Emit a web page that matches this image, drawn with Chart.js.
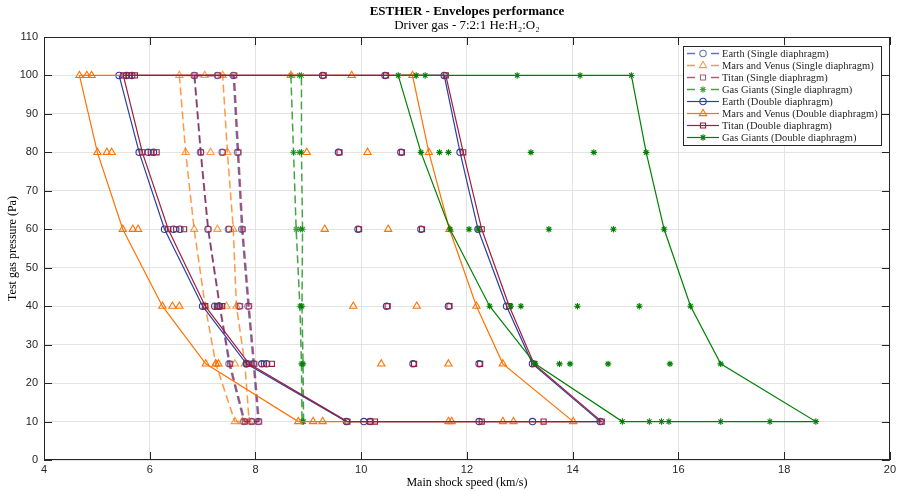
<!DOCTYPE html>
<html><head><meta charset="utf-8">
<script src="https://cdn.jsdelivr.net/npm/chart.js@4/dist/chart.umd.min.js"></script>
<style>html,body{margin:0;padding:0;background:#fff;}canvas{display:block;}</style>
</head><body>
<canvas id="c" width="899" height="491"></canvas>
<script>
// Test gas pressures (Pa), rows of every series follow this order
const pressures = [100, 80, 60, 40, 25, 10];
const xTickValues = [4, 6, 8, 10, 12, 14, 16, 18, 20];
const yTickValues = [0, 10, 20, 30, 40, 50, 60, 70, 80, 90, 100, 110];

// Main shock speeds (km/s) per pressure row
const earthSingle = [
  [6.84, 7.28, 7.58], [6.96, 7.37, 7.66], [7.10, 7.49, 7.74],
  [7.32, 7.69, 7.86], [7.50, 7.83, 7.96], [7.78, 7.92, 8.05]];
const marsSingle = [
  [6.56, 7.04, 7.38], [6.68, 7.15, 7.47], [6.84, 7.28, 7.58],
  [7.05, 7.45, 7.64], [7.25, 7.61, 7.80], [7.61, 7.75, 7.88]];
const titanSingle = [
  [6.85, 7.29, 7.60], [6.97, 7.38, 7.68], [7.11, 7.50, 7.76],
  [7.33, 7.71, 7.88], [7.52, 7.85, 7.98], [7.80, 7.94, 8.07]];
const gasSingle = [
  [8.67, 8.83, 8.87], [8.72, 8.83, 8.87], [8.77, 8.85, 8.89],
  [8.84, 8.87, 8.88], [8.87, 8.89, 8.90], [8.88, 8.90, 8.91]];
const earthDouble = [
  [5.42, 5.56, 5.66, 9.27, 10.45, 11.57], [5.80, 5.97, 6.07, 9.57, 10.75, 11.87],
  [6.28, 6.45, 6.57, 9.94, 11.13, 12.21], [7.00, 7.23, 7.30, 10.48, 11.65, 12.75],
  [7.83, 8.12, 8.21, 10.98, 12.23, 13.24], [9.72, 10.05, 10.17, 12.23, 13.24, 14.52]];
const marsDouble = [
  [4.67, 4.81, 4.90, 8.67, 9.82, 10.97], [5.01, 5.19, 5.28, 8.97, 10.12, 11.28],
  [5.49, 5.68, 5.78, 9.31, 10.51, 11.67], [6.24, 6.43, 6.56, 9.85, 11.05, 12.18],
  [7.06, 7.25, 7.30, 10.38, 11.65, 12.68], [8.81, 9.09, 9.27, 11.65, 11.71, 12.68, 12.88, 14.01]];
const titanDouble = [
  [5.50, 5.61, 5.72, 9.29, 10.47, 11.60], [5.86, 6.02, 6.13, 9.59, 10.77, 11.93],
  [6.35, 6.50, 6.65, 9.96, 11.15, 12.28], [7.05, 7.27, 7.37, 10.50, 11.67, 12.80],
  [7.88, 8.16, 8.31, 11.00, 12.25, 13.27], [9.74, 10.17, 10.26, 12.28, 13.45, 14.55]];
const gasDouble = [
  [10.70, 11.04, 11.21, 12.95, 14.14, 15.11], [11.13, 11.48, 11.65, 13.21, 14.40, 15.39],
  [11.68, 12.04, 12.21, 13.55, 14.77, 15.73], [12.43, 12.83, 13.02, 14.09, 15.26, 16.23],
  [13.29, 13.75, 13.95, 14.67, 15.84, 16.80], [14.94, 15.45, 15.68, 15.82, 16.80, 17.73, 18.60]];

const seriesLabels = [
  'Earth (Single diaphragm)', 'Mars and Venus (Single diaphragm)', 'Titan (Single diaphragm)',
  'Gas Giants (Single diaphragm)', 'Earth (Double diaphragm)', 'Mars and Venus (Double diaphragm)',
  'Titan (Double diaphragm)', 'Gas Giants (Double diaphragm)'];
const seriesRows = [earthSingle, marsSingle, titanSingle, gasSingle, earthDouble, marsDouble, titanDouble, gasDouble];

// styles
const seriesColors = [
  'rgba(43,63,158,0.72)', 'rgba(255,114,0,0.72)', 'rgba(160,28,60,0.72)', 'rgba(0,128,0,0.72)',
  '#2b3f9e', '#ff7200', '#a01c3c', '#008000'];
const seriesMarkers = ['circle', 'triangle', 'rect', 'star', 'circle', 'triangle', 'rect', 'star'];
const seriesDashed = [true, true, true, true, false, false, false, false];
const markerRadius = {circle: 3.2, triangle: 4.2, rect: 3.6, star: 3.2};

const SERIF = '"Liberation Serif", "DejaVu Serif", serif';
const SANS = '"Liberation Sans Narrow", "Liberation Sans", Arial, sans-serif';
const AXIS = '#262626';

function envelopePath(rows) {
  const mins = rows.map(r => Math.min(...r));
  const maxs = rows.map(r => Math.max(...r));
  const path = [];
  for (let i = 0; i < pressures.length; i++) path.push({x: mins[i], y: pressures[i]});
  for (let i = pressures.length - 1; i >= 0; i--) path.push({x: maxs[i], y: pressures[i]});
  path.push({x: mins[0], y: pressures[0]});
  return path;
}
function allPoints(rows) {
  return rows.flatMap((r, i) => r.map(v => ({x: v, y: pressures[i]})));
}

const datasets = [];
seriesRows.forEach((rows, k) => {
  const n = seriesRows.length;
  datasets.push({
    label: seriesLabels[k], data: envelopePath(rows), showLine: true,
    borderColor: seriesColors[k], backgroundColor: seriesColors[k],
    borderWidth: seriesDashed[k] ? 1.5 : 1.2, borderDash: seriesDashed[k] ? [8, 4] : [],
    pointRadius: 0, order: 2 * (n - k), tension: 0
  });
  datasets.push({
    label: seriesLabels[k] + ' markers', data: allPoints(rows), showLine: false,
    borderColor: seriesColors[k], backgroundColor: seriesMarkers[k] === 'star' ? seriesColors[k] : 'rgba(0,0,0,0)',
    borderWidth: 1.1, pointStyle: seriesMarkers[k], pointRadius: markerRadius[seriesMarkers[k]],
    order: 2 * (n - k) - 1
  });
});

function drawMarker(ctx, style, x, y, r, color) {
  ctx.save();
  ctx.strokeStyle = color; ctx.fillStyle = color; ctx.lineWidth = 1.1; ctx.setLineDash([]);
  ctx.beginPath();
  if (style === 'circle') { ctx.arc(x, y, r, 0, Math.PI * 2); ctx.stroke(); }
  else if (style === 'triangle') {
    ctx.moveTo(x, y - r); ctx.lineTo(x + r * 0.866, y + r * 0.5); ctx.lineTo(x - r * 0.866, y + r * 0.5); ctx.closePath(); ctx.stroke();
  } else if (style === 'rect') { const s = r * Math.SQRT1_2; ctx.rect(x - s, y - s, 2 * s, 2 * s); ctx.stroke(); }
  else if (style === 'star') {
    for (let a = 0; a < 4; a++) { const t = a * Math.PI / 4; ctx.moveTo(x - r * Math.cos(t), y - r * Math.sin(t)); ctx.lineTo(x + r * Math.cos(t), y + r * Math.sin(t)); }
    ctx.stroke();
  }
  ctx.restore();
}

const deco = {
  id: 'deco',
  afterDraw(chart) {
    const {ctx, chartArea: a, scales: {x, y}} = chart;
    ctx.save();
    // inner ticks
    ctx.strokeStyle = AXIS; ctx.lineWidth = 1; ctx.beginPath();
    xTickValues.forEach(v => {
      const px = Math.round(x.getPixelForValue(v)) + 0.5;
      ctx.moveTo(px, a.bottom); ctx.lineTo(px, a.bottom - 8);
      ctx.moveTo(px, a.top); ctx.lineTo(px, a.top + 8);
    });
    yTickValues.forEach(v => {
      const py = Math.round(y.getPixelForValue(v)) + 0.5;
      ctx.moveTo(a.left, py); ctx.lineTo(a.left + 8, py);
      ctx.moveTo(a.right, py); ctx.lineTo(a.right - 8, py);
    });
    ctx.stroke();
    ctx.strokeRect(Math.round(a.left) + 0.5, Math.round(a.top) + 0.5, Math.round(a.right - a.left) - 1, Math.round(a.bottom - a.top) - 1);
    // titles
    const cx = (a.left + a.right) / 2;
    ctx.fillStyle = '#000'; ctx.textAlign = 'center'; ctx.textBaseline = 'middle';
    ctx.font = 'bold 13px ' + SERIF; ctx.fillText('ESTHER - Envelopes performance', cx, 12);
    ctx.font = '13px ' + SERIF; ctx.fillText('Driver gas - 7:2:1 He:H\u2082:O\u2082', cx, 26);
    // legend
    const lx = 683, ly = 46, lw = 198, lh = 99;
    ctx.fillStyle = '#fff'; ctx.fillRect(lx, ly, lw, lh);
    ctx.strokeStyle = AXIS; ctx.lineWidth = 1; ctx.strokeRect(lx + 0.5, ly + 0.5, lw, lh);
    ctx.font = '10.5px ' + SERIF; ctx.textAlign = 'left'; ctx.textBaseline = 'middle';
    seriesLabels.forEach((lab, k) => {
      const yy = ly + 7.5 + k * 12;
      ctx.save();
      ctx.strokeStyle = seriesColors[k]; ctx.lineWidth = seriesDashed[k] ? 1.5 : 1.2;
      ctx.beginPath();
      if (seriesDashed[k]) { ctx.moveTo(687, yy); ctx.lineTo(695, yy); ctx.moveTo(711, yy); ctx.lineTo(719, yy); }
      else { ctx.moveTo(687, yy); ctx.lineTo(719, yy); }
      ctx.stroke(); ctx.restore();
      drawMarker(ctx, seriesMarkers[k], 703, yy, markerRadius[seriesMarkers[k]], seriesColors[k]);
      ctx.fillStyle = AXIS; ctx.fillText(lab, 722, yy + 0.5);
    });
    ctx.restore();
  }
};

new Chart(document.getElementById('c'), {
  type: 'scatter',
  data: {datasets},
  options: {
    responsive: false, animation: false, devicePixelRatio: 1,
    layout: {padding: {top: 37, right: 9, left: 0, bottom: 0}},
    plugins: {legend: {display: false}, tooltip: {enabled: false}, title: {display: false}},
    elements: {line: {tension: 0}},
    scales: {
      x: {
        type: 'linear', min: 4, max: 20,
        afterBuildTicks: s => { s.ticks = xTickValues.map(v => ({value: v})); },
        afterFit: s => { s.height = 31; },
        grid: {color: '#e3e3e3', lineWidth: 1, drawTicks: false},
        border: {display: false},
        ticks: {font: {family: SANS, size: 11}, color: AXIS, padding: 3, maxRotation: 0},
        title: {display: true, text: 'Main shock speed (km/s)', font: {family: SERIF, size: 12}, color: '#000', padding: {top: 0, bottom: 1}}
      },
      y: {
        type: 'linear', min: 0, max: 110,
        afterBuildTicks: s => { s.ticks = yTickValues.map(v => ({value: v})); },
        afterFit: s => { s.width = 44; },
        grid: {color: '#e3e3e3', lineWidth: 1, drawTicks: false},
        border: {display: false},
        ticks: {font: {family: SANS, size: 11}, color: AXIS, padding: 6},
        title: {display: true, text: 'Test gas pressure (Pa)', font: {family: SERIF, size: 12}, color: '#000', padding: {top: 6, bottom: 0}}
      }
    }
  },
  plugins: [deco]
});
</script>
</body></html>
